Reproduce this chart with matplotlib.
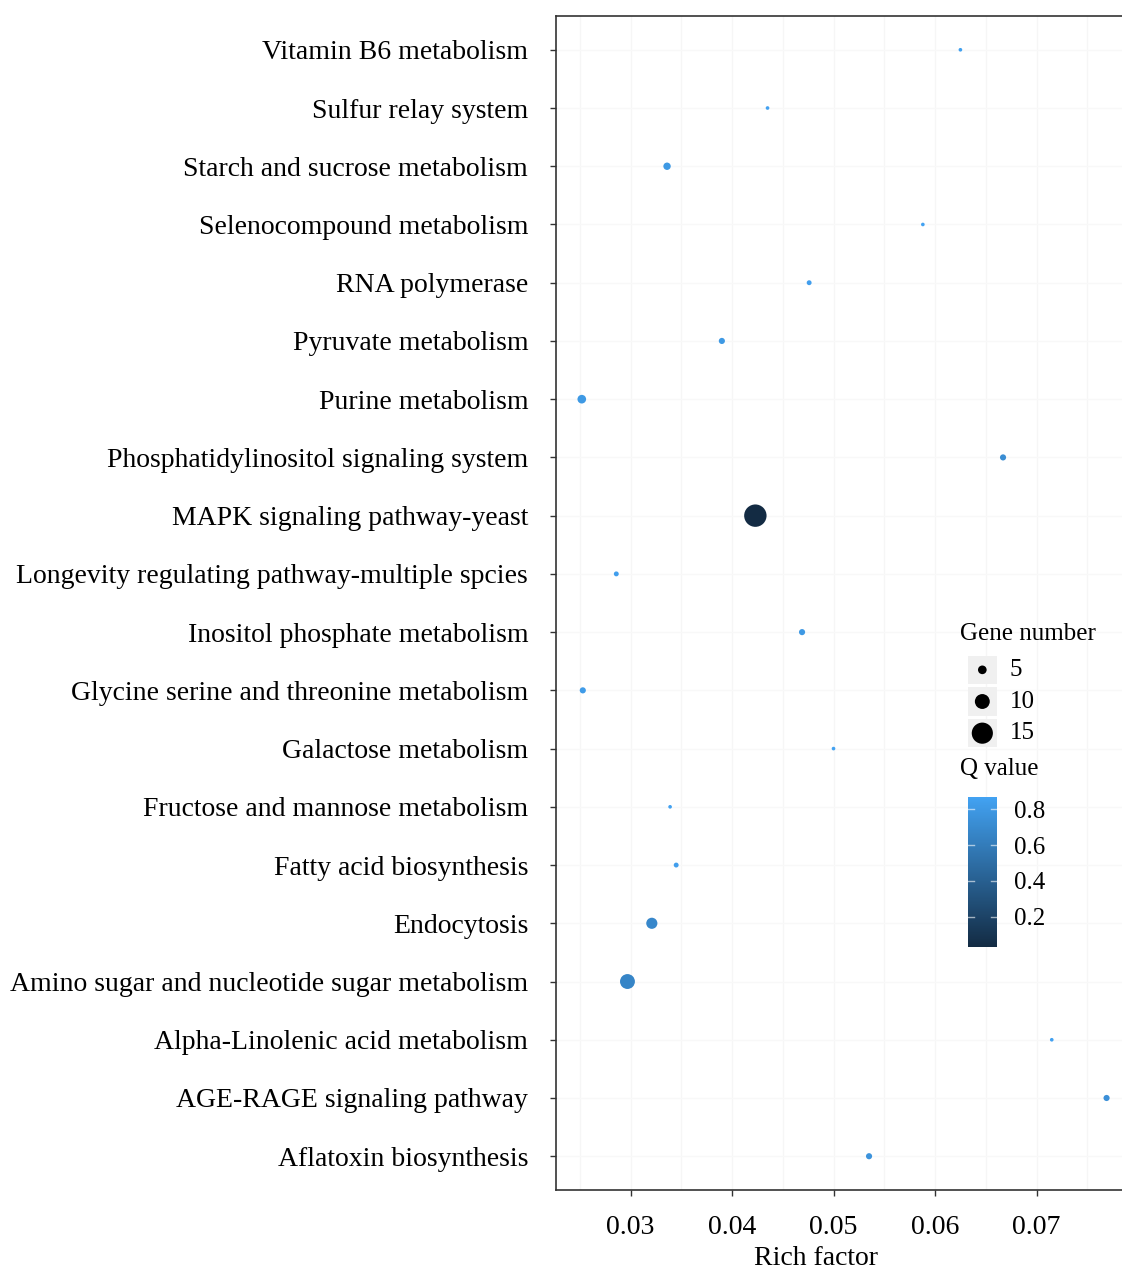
import matplotlib.pyplot as plt
from matplotlib.colors import LinearSegmentedColormap, Normalize
from matplotlib.patches import Rectangle
import numpy as np

plt.rcParams['font.family'] = ['Liberation Serif', 'DejaVu Serif']

# pathways listed top to bottom
pathways = [
    "Vitamin B6 metabolism",
    "Sulfur relay system",
    "Starch and sucrose metabolism",
    "Selenocompound metabolism",
    "RNA polymerase",
    "Pyruvate metabolism",
    "Purine metabolism",
    "Phosphatidylinositol signaling system",
    "MAPK signaling pathway-yeast",
    "Longevity regulating pathway-multiple spcies",
    "Inositol phosphate metabolism",
    "Glycine serine and threonine metabolism",
    "Galactose metabolism",
    "Fructose and mannose metabolism",
    "Fatty acid biosynthesis",
    "Endocytosis",
    "Amino sugar and nucleotide sugar metabolism",
    "Alpha-Linolenic acid metabolism",
    "AGE-RAGE signaling pathway",
    "Aflatoxin biosynthesis",
]
rich_factor = [0.0625, 0.0435, 0.0336, 0.0588, 0.0476, 0.0390, 0.0252, 0.0667,
               0.0423, 0.0286, 0.0469, 0.0253, 0.0500, 0.0339, 0.0345, 0.0321,
               0.0297, 0.0715, 0.0769, 0.0535]
gene_number = [1, 1, 4, 1, 2, 3, 5, 3, 16, 2, 3, 3, 1, 1, 2, 7, 10, 1, 3, 3]
q_value = [0.85, 0.86, 0.80, 0.867, 0.84, 0.80, 0.80, 0.72, 0.033, 0.84,
           0.80, 0.82, 0.86, 0.86, 0.84, 0.68, 0.66, 0.86, 0.74, 0.76]

legend_sizes = [5, 10, 15]
cbar_ticks = [0.2, 0.4, 0.6, 0.8]
x_ticks = [0.03, 0.04, 0.05, 0.06, 0.07]

cmap = LinearSegmentedColormap.from_list("q", ["#132B43", "#42A2F2"])
norm = Normalize(vmin=min(q_value), vmax=max(q_value))


def marker_area(n):
    # diameter in pixels grows with gene number, converted to points^2
    d = 2.4 + 1.25 * np.asarray(n, dtype=float)
    return (d * 72 / 100) ** 2


fig = plt.figure(figsize=(11.22, 12.69), dpi=100)
ax = fig.add_axes([556 / 1122, 1 - 1190 / 1269, 1 - 556 / 1122, (1190 - 16) / 1269])

y = np.arange(len(pathways))[::-1]
ax.scatter(rich_factor, y, s=marker_area(gene_number), c=q_value, cmap=cmap,
           norm=norm, linewidths=0, zorder=3)

ax.set_xlim(0.02266, 0.07842)
ax.set_ylim(-0.58, len(pathways) - 1 + 0.58)
ax.set_yticks(y)
ax.set_yticklabels(pathways, fontsize=20)
ax.set_xticks(x_ticks)
ax.set_xticklabels([f"{t:.2f}" for t in x_ticks], fontsize=20)
ax.set_xticks(np.arange(0.025, 0.08, 0.01), minor=True)
ax.tick_params(axis='both', which='major', length=4, width=1, color='#333333')
ax.tick_params(axis='y', pad=16)
ax.tick_params(axis='x', pad=14)
ax.tick_params(axis='x', which='minor', length=0)

ax.grid(True, which='both', axis='x', color='#f6f6f6', lw=1, zorder=0)
ax.grid(True, which='major', axis='y', color='#f8f8f8', lw=1, zorder=0)
for side in ['left', 'bottom', 'top']:
    ax.spines[side].set_color('#333333')
    ax.spines[side].set_linewidth(1.2)
ax.spines['right'].set_visible(False)

ax.set_xlabel("Rich factor", fontsize=20)
ax.xaxis.set_label_coords((816 - 556) / (1122 - 556), -0.048)

# gene number legend
fig.text(960 / 1122, 1 - 634 / 1269, "Gene number", fontsize=18, va='center', ha='left')
lax = fig.add_axes([966 / 1122, 1 - 749 / 1269, 34 / 1122, 95 / 1269])
lax.set_xlim(0, 1)
lax.set_ylim(0, 3)
lax.axis('off')
key_y = [2.5, 1.5, 0.5]
for ky in key_y:
    lax.add_patch(Rectangle((0.05, ky - 0.45), 0.86, 0.9, color='#f0f0f0', lw=0))
lax.scatter([0.48] * 3, key_y, s=marker_area(legend_sizes), c='black', linewidths=0, zorder=3)
for ky, n in zip(key_y, legend_sizes):
    lax.text(1.28, ky, str(n), fontsize=18, va='center', ha='left')

# Q value colorbar
fig.text(960 / 1122, 1 - 769 / 1269, "Q value", fontsize=18, va='center', ha='left')
cax = fig.add_axes([968 / 1122, 1 - 947 / 1269, 29 / 1122, 150 / 1269])
sm = plt.cm.ScalarMappable(cmap=cmap, norm=norm)
cb = fig.colorbar(sm, cax=cax)
cb.outline.set_visible(False)
cb.set_ticks(cbar_ticks)
cb.set_ticklabels([f"{t:.1f}" for t in cbar_ticks])
cax.tick_params(length=0, labelsize=18, pad=12)
for t in cbar_ticks:
    cax.plot([0, 0.2], [t, t], color='white', lw=1, alpha=0.6, transform=cax.get_yaxis_transform())
    cax.plot([0.8, 1.0], [t, t], color='white', lw=1, alpha=0.6, transform=cax.get_yaxis_transform())

fig.savefig("out.png", dpi=100)
